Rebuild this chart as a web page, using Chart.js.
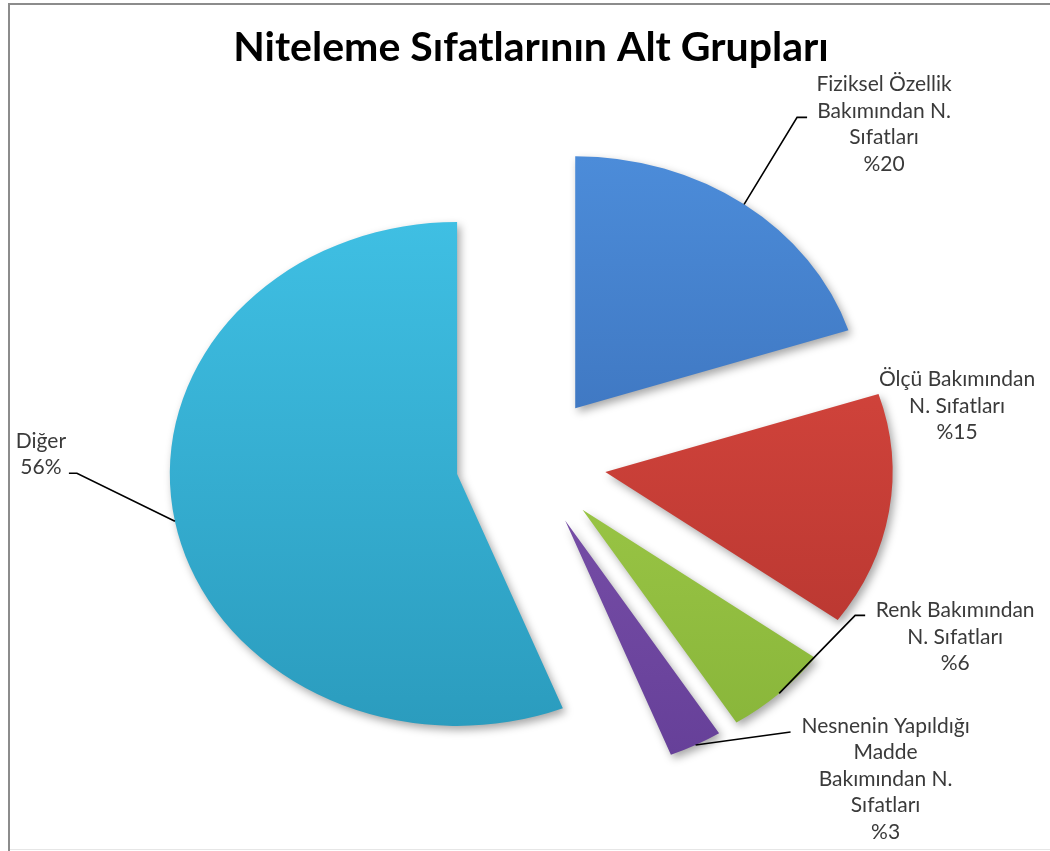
<!DOCTYPE html>
<html>
<head>
<meta charset="utf-8">
<script src="https://cdn.jsdelivr.net/npm/chart.js@4.4.1/dist/chart.umd.min.js"></script>
<style>
  html, body { margin: 0; padding: 0; background: #fff; overflow: hidden; }
  canvas { display: block; }
</style>
</head>
<body>
<canvas id="myChart" width="1050" height="851"></canvas>
<script>
var title = 'Niteleme Sıfatlarının Alt Grupları';
var categories = [
  'Fiziksel Özellik Bakımından N. Sıfatları',
  'Ölçü Bakımından N. Sıfatları',
  'Renk Bakımından N. Sıfatları',
  'Nesnenin Yapıldığı Madde Bakımından N. Sıfatları',
  'Diğer'
];
var values = [20, 15, 6, 3, 56];
var valueLabels = ['%20', '%15', '%6', '%3', '56%'];
var labelLines = [
  ['Fiziksel Özellik', 'Bakımından N.', 'Sıfatları'],
  ['Ölçü Bakımından', 'N. Sıfatları'],
  ['Renk Bakımından', 'N. Sıfatları'],
  ['Nesnenin Yapıldığı', 'Madde', 'Bakımından N.', 'Sıfatları'],
  ['Diğer']
];
var colorsTop    = ['#4c8cd9', '#de4a41', '#a9d34f', '#855ab3', '#3fbfe3'];
var colorsBottom = ['#3466ae', '#b3342e', '#87b439', '#653f98', '#2b9cbe'];

// label spot relative to the outer edge of each slice
var labelPlacement = [
  { text: [140, -120], elbow: [53, -87], end: [63, -87] },
  { text: [68, -132] },
  { text: [176, -83], elbow: [76, -78], end: [86, -78] },
  { text: [190, -19], elbow: [95, -13] },
  { text: [-134, -80], elbow: [-98, -48], end: [-106, -48] }
];

var pieRadius = 252;
var stretchX = 1.14;   // slight perspective: pie is wider than tall
var gap = 66;          // how far every slice is pulled out
var labelFont = '21px Lato';
var lineH = 26.5;

function sliceFill(context) {
  var chart = context.chart;
  var area = chart.chartArea;
  var i = context.dataIndex;
  if (!area) return colorsTop[i];
  var cy = (area.top + area.bottom) / 2;
  var g = chart.ctx.createLinearGradient(0, cy - pieRadius, 0, cy + pieRadius);
  g.addColorStop(0, colorsTop[i]);
  g.addColorStop(1, colorsBottom[i]);
  return g;
}

function edgePoint(arc) {
  var mid = (arc.startAngle + arc.endAngle) / 2;
  var ux = Math.cos(mid) * (gap + arc.outerRadius);
  var uy = Math.sin(mid) * (gap + arc.outerRadius);
  return { x: arc.x + ux * stretchX, y: arc.y + uy };
}

var frame = {
  id: 'frame',
  beforeDraw: function (chart) {
    var ctx = chart.ctx;
    ctx.save();
    ctx.fillStyle = '#fff';
    ctx.fillRect(0, 0, chart.width, chart.height);
    ctx.fillStyle = '#8c8c8c';
    ctx.fillRect(8, 3, 2, chart.height - 3);
    ctx.fillRect(8, 3, chart.width - 8, 2);
    ctx.fillStyle = '#e6e6e6';
    ctx.fillRect(10, chart.height - 2, chart.width - 10, 1);
    ctx.restore();
  }
};

var exploded = {
  id: 'exploded',
  beforeDatasetsDraw: function (chart) {
    var ctx = chart.ctx;
    var arcs = chart.getDatasetMeta(0).data;
    var cx = arcs[0].x, cy = arcs[0].y;
    ctx.save();
    ctx.translate(cx, cy);
    ctx.scale(stretchX, 1);
    ctx.translate(-cx, -cy);
    arcs.forEach(function (arc) {
      var mid = (arc.startAngle + arc.endAngle) / 2;
      ctx.save();
      ctx.translate(Math.cos(mid) * gap, Math.sin(mid) * gap);
      ctx.shadowColor = 'rgba(0,0,0,0.35)';
      ctx.shadowBlur = 9;
      ctx.shadowOffsetX = 3;
      ctx.shadowOffsetY = 4;
      arc.draw(ctx);
      ctx.restore();
    });
    ctx.restore();
    return false;
  }
};

var sliceLabels = {
  id: 'sliceLabels',
  afterDraw: function (chart) {
    var ctx = chart.ctx;
    var arcs = chart.getDatasetMeta(0).data;
    ctx.save();
    arcs.forEach(function (arc, i) {
      var p = edgePoint(arc);
      var place = labelPlacement[i];
      if (place.elbow) {
        ctx.beginPath();
        ctx.moveTo(p.x, p.y);
        ctx.lineTo(p.x + place.elbow[0], p.y + place.elbow[1]);
        if (place.end) ctx.lineTo(p.x + place.end[0], p.y + place.end[1]);
        ctx.strokeStyle = '#000';
        ctx.lineWidth = 1.6;
        ctx.stroke();
      }
      var lines = labelLines[i].concat([valueLabels[i]]);
      ctx.font = labelFont;
      ctx.fillStyle = '#3a3a3a';
      ctx.textAlign = 'center';
      ctx.textBaseline = 'middle';
      lines.forEach(function (txt, k) {
        ctx.fillText(txt, p.x + place.text[0], p.y + place.text[1] + k * lineH);
      });
    });
    ctx.restore();
  }
};

var ctx = document.getElementById('myChart');
new Chart(ctx, {
  type: 'pie',
  data: {
    labels: categories,
    datasets: [{
      data: values,
      backgroundColor: sliceFill,
      borderWidth: 0
    }]
  },
  options: {
    responsive: false,
    animation: false,
    radius: pieRadius,
    layout: { padding: { left: 12, right: 0, top: 0, bottom: 0 } },
    plugins: {
      legend: { display: false },
      tooltip: { enabled: false },
      title: {
        display: true,
        text: title,
        color: '#000',
        font: { family: 'Lato', size: 41, weight: 'bold' },
        padding: { top: 23, bottom: 0 }
      }
    }
  },
  plugins: [frame, exploded, sliceLabels]
});
</script>
</body>
</html>
